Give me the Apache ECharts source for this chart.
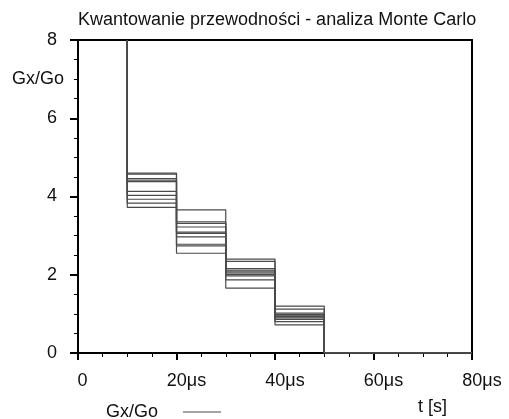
<!DOCTYPE html>
<html>
<head>
<meta charset="utf-8">
<script src="https://cdn.jsdelivr.net/npm/echarts@6/dist/echarts.min.js"></script>
<style>
  html, body { margin: 0; padding: 0; background: #fff; }
  #chart { width: 509px; height: 419px; }
</style>
</head>
<body>
<div id="chart"></div>
<script>
// step boundaries (in µs) and the level before the first step
const stepTimes = [10, 20, 30, 40, 50, 80];
const startLevel = 8;
const endLevel = 0;

// Gx/Go levels of the Monte Carlo runs, one array per step
const step1 = [4.60, 4.57, 4.46, 4.42, 4.38, 4.13, 4.03, 3.93, 3.83, 3.72];
const step2 = [3.66, 3.35, 3.31, 3.22, 3.09, 3.06, 2.97, 2.78, 2.74, 2.55];
const step3 = [2.40, 2.34, 2.16, 2.12, 2.09, 2.05, 2.01, 1.97, 1.87, 1.66];
const step4 = [1.20, 1.12, 1.02, 0.98, 0.95, 0.93, 0.90, 0.86, 0.80, 0.72];

let chartDom = document.getElementById('chart');
let myChart = echarts.init(chartDom);
let option;

const font = 'Liberation Sans, Arial, sans-serif';
const fs = 18;

let seriesList = [];
for (let i = 0; i < step1.length; i++) {
  const levels = [startLevel, step1[i], step2[i], step3[i], step4[i], endLevel];
  seriesList.push({
    name: 'Gx/Go',
    type: 'line',
    step: 'start',
    symbol: 'none',
    animation: false,
    lineStyle: { color: '#4a4a4a', width: 1.2 },
    itemStyle: { color: '#4a4a4a' },
    data: stepTimes.map((t, k) => [t, levels[k]])
  });
}

option = {
  animation: false,
  title: [
    {
      text: 'Kwantowanie przewodności - analiza Monte Carlo',
      left: 78,
      top: 11,
      padding: 0,
      textStyle: { fontFamily: font, fontSize: fs, fontWeight: 'normal', color: '#111' }
    },
    {
      text: 'Gx/Go',
      left: 12,
      top: 70,
      padding: 0,
      textStyle: { fontFamily: font, fontSize: fs, fontWeight: 'normal', color: '#111' }
    },
    {
      text: 't [s]',
      left: 418,
      top: 398,
      padding: 0,
      textStyle: { fontFamily: font, fontSize: fs, fontWeight: 'normal', color: '#111' }
    }
  ],
  legend: {
    left: 106,
    top: 403,
    padding: 0,
    align: 'right',
    icon: 'rect',
    itemWidth: 38,
    itemHeight: 1,
    textStyle: { fontFamily: font, fontSize: fs, color: '#111', padding: [0, 20, 0, 0] },
    data: ['Gx/Go']
  },
  grid: {
    left: 78,
    right: 37,
    top: 40,
    bottom: 66,
    show: true,
    borderColor: '#000',
    borderWidth: 2
  },
  xAxis: {
    type: 'value',
    min: 0,
    max: 80,
    interval: 20,
    axisLine: { onZero: false, lineStyle: { color: '#000', width: 2 } },
    axisTick: { show: true, length: 7, lineStyle: { color: '#000', width: 2 } },
    minorTick: { show: true, splitNumber: 4, length: 4, lineStyle: { color: '#000', width: 1 } },
    splitLine: { show: false },
    axisLabel: {
      margin: 19,
      color: '#111',
      fontFamily: font,
      fontSize: fs,
      formatter: function (v) {
        return v === 0 ? '{z|0}' : '{n|' + v + 'μs}';
      },
      rich: {
        z: { fontFamily: font, fontSize: fs, color: '#111', padding: [0, 0, 0, 9] },
        n: { fontFamily: font, fontSize: fs, color: '#111', padding: [0, 0, 0, 20] }
      }
    }
  },
  yAxis: {
    type: 'value',
    min: 0,
    max: 8,
    interval: 2,
    axisLine: { show: true, onZero: false, lineStyle: { color: '#000', width: 2 } },
    axisTick: { show: true, length: 8, lineStyle: { color: '#000', width: 2 } },
    minorTick: { show: true, splitNumber: 4, length: 4, lineStyle: { color: '#000', width: 1 } },
    splitLine: { show: false },
    axisLabel: {
      margin: 21,
      color: '#111',
      fontFamily: font,
      fontSize: fs
    }
  },
  series: seriesList
};

option && myChart.setOption(option);
</script>
</body>
</html>
